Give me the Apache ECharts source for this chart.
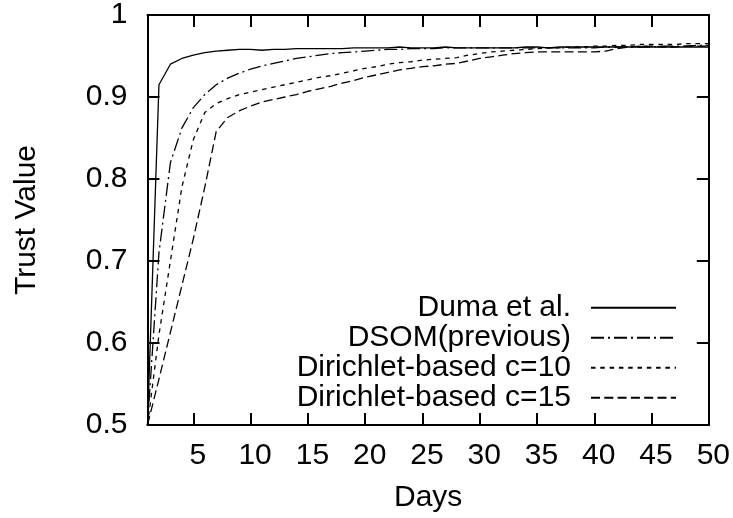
<!DOCTYPE html>
<html>
<head>
<meta charset="utf-8">
<script src="https://cdn.jsdelivr.net/npm/echarts@6/dist/echarts.min.js"></script>
<style>
html,body{margin:0;padding:0;background:#fff;}
#chart{width:733px;height:518px;}
</style>
</head>
<body>
<div id="chart"></div>
<script>
// ---- data ----
var days = [];
for (var d = 1; d <= 50; d++) days.push(d);

var seriesNames = ['Duma et al.', 'DSOM(previous)', 'Dirichlet-based c=10', 'Dirichlet-based c=15'];

var duma = [0.5, 0.915, 0.94, 0.947, 0.951, 0.954, 0.956, 0.957, 0.958, 0.958,
  0.957, 0.958, 0.958, 0.959, 0.959, 0.959, 0.959, 0.959, 0.96, 0.96,
  0.96, 0.96, 0.961, 0.96, 0.96, 0.96, 0.961, 0.96, 0.96, 0.96,
  0.96, 0.96, 0.96, 0.961, 0.961, 0.96, 0.961, 0.961, 0.961, 0.961,
  0.961, 0.961, 0.961, 0.961, 0.961, 0.961, 0.961, 0.961, 0.961, 0.961];

var dsom = [0.5, 0.71, 0.82, 0.862, 0.887, 0.903, 0.915, 0.923, 0.929, 0.934,
  0.938, 0.941, 0.944, 0.947, 0.949, 0.951, 0.953, 0.954, 0.955, 0.956,
  0.957, 0.958, 0.958, 0.959, 0.959, 0.959, 0.96, 0.96, 0.96, 0.96,
  0.96, 0.96, 0.96, 0.96, 0.96, 0.96, 0.96, 0.96, 0.96, 0.96,
  0.961, 0.961, 0.961, 0.961, 0.961, 0.962, 0.962, 0.962, 0.963, 0.963];

var dir10 = [0.5, 0.61, 0.70, 0.79, 0.848, 0.881, 0.892, 0.898, 0.903, 0.906,
  0.909, 0.912, 0.915, 0.918, 0.921, 0.924, 0.926, 0.929, 0.932, 0.935,
  0.937, 0.94, 0.942, 0.943, 0.945, 0.946, 0.947, 0.948, 0.951, 0.953,
  0.955, 0.956, 0.957, 0.958, 0.959, 0.96, 0.96, 0.961, 0.961, 0.962,
  0.962, 0.963, 0.963, 0.964, 0.964, 0.964, 0.964, 0.965, 0.965, 0.965];

var dir15 = [0.5, 0.556, 0.613, 0.67, 0.727, 0.79, 0.858, 0.875, 0.883, 0.889,
  0.894, 0.897, 0.9, 0.903, 0.907, 0.91, 0.913, 0.917, 0.92, 0.924,
  0.927, 0.93, 0.933, 0.935, 0.937, 0.938, 0.94, 0.941, 0.944, 0.947,
  0.949, 0.951, 0.953, 0.954, 0.955, 0.955, 0.955, 0.955, 0.955, 0.955,
  0.956, 0.959, 0.961, 0.962, 0.962, 0.961, 0.961, 0.962, 0.962, 0.962];

var xTicks = [5, 10, 15, 20, 25, 30, 35, 40, 45, 50];
var yTicks = [0.5, 0.6, 0.7, 0.8, 0.9, 1];

// ---- chart ----
function pairs(vals) {
  return days.map(function (d, i) { return [d, vals[i]]; });
}
var FONT = '"Liberation Sans", Arial, Helvetica, sans-serif';
var dashes = ['solid', [13, 4, 2, 4], [4.5, 4.8], [9, 4.3]];
var allVals = [duma, dsom, dir10, dir15];

var series = seriesNames.map(function (name, i) {
  return {
    name: name,
    type: 'line',
    data: pairs(allVals[i]),
    symbol: 'none',
    showSymbol: false,
    animation: false,
    lineStyle: { color: '#000', width: 1.3, type: dashes[i] },
    itemStyle: { color: '#000' },
    z: 3
  };
});

var axisLineStyle = { show: true, lineStyle: { color: '#000', width: 2 } };
var tickStyle = { show: true, inside: true, length: 12, lineStyle: { color: '#000', width: 2 } };

var chart = echarts.init(document.getElementById('chart'), null, { renderer: 'canvas' });
chart.setOption({
  backgroundColor: '#fff',
  animation: false,
  textStyle: { fontFamily: FONT },
  grid: { left: 147.5, right: 20, top: 13.5, bottom: 92, containLabel: false },
  legend: {
    orient: 'vertical',
    align: 'right',
    right: 56,
    top: 292.8,
    padding: 0,
    itemGap: 0,
    itemWidth: 85,
    itemHeight: 29.8,
    selectedMode: false,
    data: seriesNames,
    itemStyle: { color: 'transparent', borderColor: 'transparent', borderWidth: 0, opacity: 0 },
    textStyle: { fontFamily: FONT, fontSize: 30, color: '#000', lineHeight: 30, padding: [0, 15, 0, 0] }
  },
  xAxis: [{
    type: 'value', min: 1, max: 50, position: 'bottom',
    name: 'Days', nameLocation: 'middle', nameGap: 58,
    nameTextStyle: { fontFamily: FONT, fontSize: 30, color: '#000' },
    axisLine: axisLineStyle,
    axisTick: Object.assign({ customValues: xTicks }, tickStyle),
    axisLabel: { customValues: xTicks, margin: 16, fontFamily: FONT, fontSize: 30, color: '#000', padding: [0, 0, 0, 9] },
    splitLine: { show: false }
  }, {
    type: 'value', min: 1, max: 50, position: 'top',
    axisLine: axisLineStyle,
    axisTick: Object.assign({ customValues: xTicks }, tickStyle),
    axisLabel: { show: false },
    splitLine: { show: false }
  }],
  yAxis: [{
    type: 'value', min: 0.5, max: 1, interval: 0.1, position: 'left',
    name: 'Trust Value', nameLocation: 'middle', nameGap: 106,
    nameTextStyle: { fontFamily: FONT, fontSize: 30, color: '#000' },
    axisLine: axisLineStyle,
    axisTick: Object.assign({ customValues: yTicks }, tickStyle),
    axisLabel: { customValues: yTicks, margin: 20, fontFamily: FONT, fontSize: 30, color: '#000' },
    splitLine: { show: false }
  }, {
    type: 'value', min: 0.5, max: 1, interval: 0.1, position: 'right',
    axisLine: axisLineStyle,
    axisTick: Object.assign({ customValues: yTicks }, tickStyle),
    axisLabel: { show: false },
    splitLine: { show: false }
  }],
  series: series
});
</script>
</body>
</html>
